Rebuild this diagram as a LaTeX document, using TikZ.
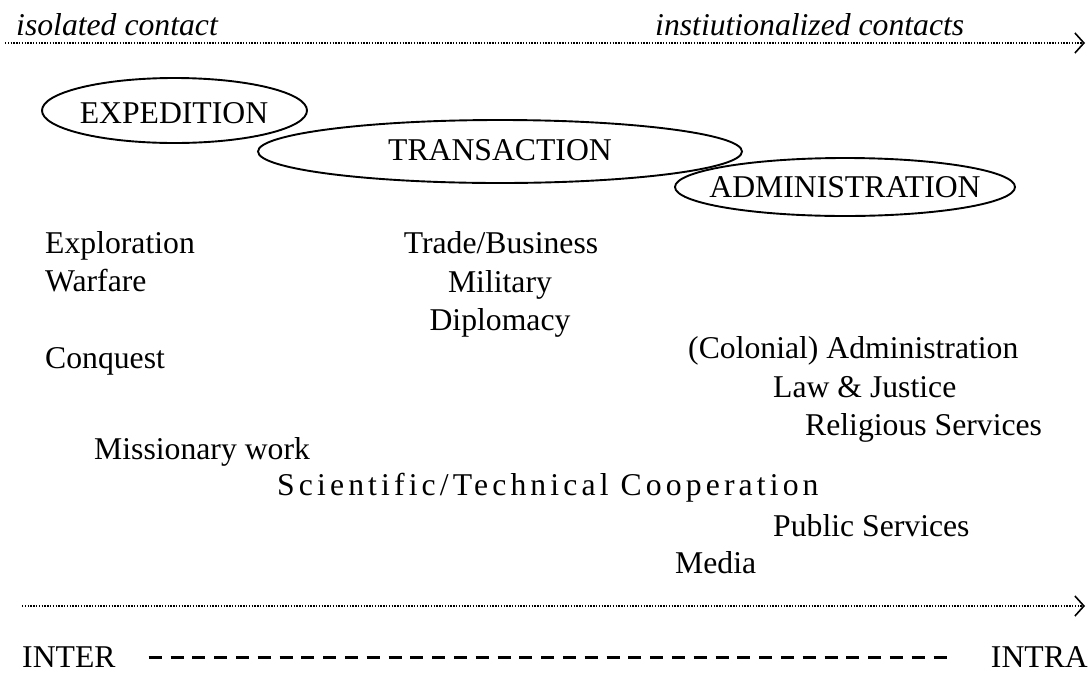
\documentclass[tikz,border=0pt]{standalone}
\usepackage{fontspec}
\setmainfont{Liberation Serif}
\usetikzlibrary{arrows.meta,shapes.geometric}
\begin{document}
\begin{tikzpicture}[x=1pt,y=-1pt,
  every node/.style={inner sep=0pt,font=\fontsize{31.7}{38}\selectfont},
  lbl/.style={anchor=base west},
  clbl/.style={anchor=base},
  dotline/.style={line width=2pt,dash pattern=on 1.4pt off 1.4pt,
     -{Straight Barb[length=9pt,width=20pt,line width=1.6pt]}},
  dashline/.style={line width=3pt,dash pattern=on 13pt off 8.8pt},
  phase/.style={draw,ellipse,line width=1.9pt,inner sep=0pt}]
\useasboundingbox (0,0) rectangle (1090,673);
% top axis
\node[lbl,font=\fontsize{31.7}{38}\selectfont\itshape] (iso) at (16,35) {isolated contact};
\node[lbl,font=\fontsize{31.7}{38}\selectfont\itshape] (inst) at (655,35) {instiutionalized contacts};
\coordinate (ts) at (5,43);
\coordinate (te) at (1085,43);
\draw[dotline] (ts) -- (te);
% ellipses
\node[phase,minimum width=265pt,minimum height=65pt] (exp) at (174.5,110.5) {};
\node[clbl] (expt) at (174,123) {EXPEDITION};
\node[phase,minimum width=484pt,minimum height=63pt] (tra) at (500,151.5) {};
\node[clbl] (trat) at (500,160) {TRANSACTION};
\node[phase,minimum width=340pt,minimum height=58pt] (adm) at (845,187) {};
\node[clbl] (admt) at (845,197) {ADMINISTRATION};
% lists
\node[lbl] (explo) at (45,253) {Exploration};
\node[lbl] (war) at (45,291) {Warfare};
\node[lbl] (conq) at (45,368) {Conquest};
\node[clbl] (trade) at (501,253) {Trade/Business};
\node[clbl] (mil) at (500,292) {Military};
\node[clbl] (dipl) at (500,330) {Diplomacy};
\node[lbl] (col) at (688,358) {(Colonial) Administration};
\node[lbl] (law) at (773,397) {Law \& Justice};
\node[lbl] (rel) at (805,435) {Religious Services};
\node[lbl] (miss) at (94,459) {Missionary work};
\node[lbl,font=\fontsize{31.7}{38}\selectfont\addfontfeature{LetterSpace=13}] (sci) at (277,495) {Scientific/Technical Cooperation};
\node[lbl] (pub) at (773,536) {Public Services};
\node[lbl] (med) at (675,573) {Media};
% bottom axis
\coordinate (bs) at (22,606);
\coordinate (be) at (1085,606);
\draw[dotline] (bs) -- (be);
\node[anchor=base west] (inter) at (22,667) {INTER};
\node[anchor=base east] (intra) at (1088,667) {INTRA};
\draw[dashline,shorten <=33pt,shorten >=36pt] ([yshift=10pt]inter.base east) -- ([yshift=10pt]intra.base west);
\end{tikzpicture}
\end{document}
